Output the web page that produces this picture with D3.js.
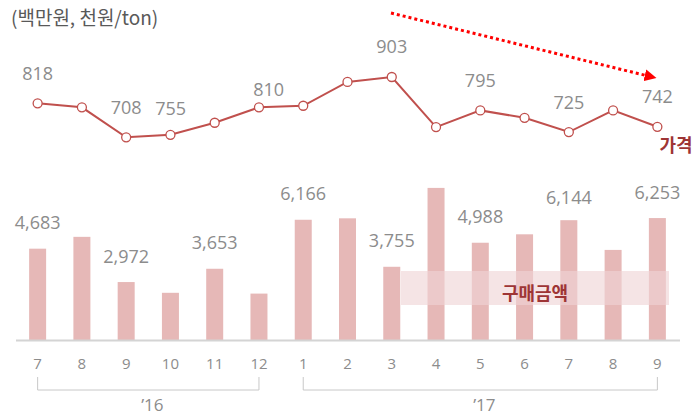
<!DOCTYPE html>
<html>
<head>
<meta charset="utf-8">
<script src="https://cdn.jsdelivr.net/npm/d3@7"></script>
<style>
  body { margin: 0; background: #fff; }
  svg { display: block; }
  .tick text { font-family: "Open Sans", sans-serif; font-size: 15px; fill: #8c8c8c; }
</style>
</head>
<body>
<svg id="chart"></svg>
<script>
// months on the x axis (Jul '16 .. Sep '17)
const months = ['7', '8', '9', '10', '11', '12', '1', '2', '3', '4', '5', '6', '7', '8', '9'];
// purchase amount (백만원)
const purchase = [4683, 5290, 2972, 2420, 3653, 2380, 6166, 6240, 3755, 7800, 4988, 5420, 6144, 4620, 6253];
// price (천원/ton)
const price = [818, 805, 708, 716, 755, 805, 810, 887, 903, 741, 795, 771, 725, 795, 742];
// which months carry a value label
const labeled = [0, 2, 4, 6, 8, 10, 12, 14];
const years = [
    { name: '’16', from: 0, to: 5 },
    { name: '’17', from: 6, to: 14 }
];

const W = 694, H = 418;
const baseY = 340;
const grey = '#8c8c8c', lineColor = '#c0504d', barColor = '#e6b8b7', darkRed = '#9e3535';

const svg = d3.select('#chart').attr('width', W).attr('height', H);

const x = d3.scaleBand().domain(d3.range(months.length)).range([15.5, 679.5]);
const cx = i => x(i) + x.bandwidth() / 2;
const yBar = d3.scaleLinear().domain([0, 10000]).range([baseY, 145]);
const yLine = d3.scaleLinear().domain([600, 1000]).range([170.7, 47]);

// unit title
svg.append('text')
    .attr('x', 11).attr('y', 25)
    .style('font-family', '"Noto Sans CJK KR", sans-serif')
    .style('font-size', '19px')
    .attr('fill', '#595959')
    .text('(백만원, 천원/ton)');

// bars
svg.append('g').selectAll('rect')
    .data(purchase)
    .enter().append('rect')
    .attr('x', (d, i) => cx(i) - 8.5)
    .attr('y', d => yBar(d))
    .attr('width', 17)
    .attr('height', d => baseY - yBar(d))
    .attr('fill', barColor);

// bar value labels
const barNudge = { 12: 3 };
svg.append('g').selectAll('text')
    .data(labeled)
    .enter().append('text')
    .attr('x', i => cx(i))
    .attr('y', i => yBar(purchase[i]) - 19.5 + (barNudge[i] || 0))
    .attr('text-anchor', 'middle')
    .style('font-family', '"Open Sans", sans-serif')
    .style('font-size', '18px')
    .attr('fill', grey)
    .text(i => d3.format(',')(purchase[i]));

// legend band for the bars
svg.append('rect')
    .attr('x', 401).attr('y', 271)
    .attr('width', 268).attr('height', 34)
    .attr('fill', '#efd3d5')
    .attr('fill-opacity', 0.62);
svg.append('text')
    .attr('x', 535).attr('y', 299.5)
    .attr('text-anchor', 'middle')
    .style('font-family', '"Noto Sans CJK KR", sans-serif')
    .style('font-size', '18px')
    .style('font-weight', 'bold')
    .attr('fill', darkRed)
    .text('구매금액');

// x axis
const xAxis = d3.axisBottom(x)
    .tickSize(0)
    .tickPadding(18)
    .tickFormat(i => months[i]);
const axisG = svg.append('g')
    .attr('transform', 'translate(0,' + baseY + ')')
    .call(xAxis);
axisG.select('.domain').attr('stroke', '#d4d4d4').attr('stroke-width', 2);

// year brackets
years.forEach(function(yr) {
    const x0 = cx(yr.from), x1 = cx(yr.to);
    svg.append('path')
        .attr('d', 'M' + x0 + ',377V390H' + x1 + 'V377')
        .attr('fill', 'none')
        .attr('stroke', '#c8c8c8')
        .attr('stroke-width', 1);
    svg.append('text')
        .attr('x', (x0 + x1) / 2 + 4).attr('y', 411)
        .attr('text-anchor', 'middle')
        .style('font-family', '"Open Sans", sans-serif')
        .style('font-size', '17px')
        .attr('fill', grey)
        .text(yr.name);
});

// price line
const line = d3.line()
    .x((d, i) => cx(i))
    .y(d => yLine(d));
svg.append('path')
    .datum(price)
    .attr('d', line)
    .attr('fill', 'none')
    .attr('stroke', lineColor)
    .attr('stroke-width', 2);

svg.append('g').selectAll('circle')
    .data(price)
    .enter().append('circle')
    .attr('cx', (d, i) => cx(i))
    .attr('cy', d => yLine(d))
    .attr('r', 4.5)
    .attr('fill', '#fff')
    .attr('stroke', lineColor)
    .attr('stroke-width', 1.3);

// price labels (two were moved by hand in the original)
const lineNudge = { 4: [-44, 16], 6: [-34.5, 14] };
svg.append('g').selectAll('text')
    .data(labeled)
    .enter().append('text')
    .attr('x', i => cx(i) + (lineNudge[i] ? lineNudge[i][0] : 0))
    .attr('y', i => yLine(price[i]) - 23.5 + (lineNudge[i] ? lineNudge[i][1] : 0))
    .attr('text-anchor', 'middle')
    .style('font-family', '"Open Sans", sans-serif')
    .style('font-size', '18px')
    .attr('fill', grey)
    .text(i => price[i]);

svg.append('text')
    .attr('x', 676).attr('y', 151.5)
    .attr('text-anchor', 'middle')
    .style('font-family', '"Noto Sans CJK KR", sans-serif')
    .style('font-size', '18px')
    .style('font-weight', 'bold')
    .attr('fill', darkRed)
    .text('가격');

// downward trend arrow
svg.append('defs').append('marker')
    .attr('id', 'head')
    .attr('viewBox', '0 0 10 10')
    .attr('refX', 1).attr('refY', 5)
    .attr('markerWidth', 4).attr('markerHeight', 4)
    .attr('markerUnits', 'strokeWidth')
    .attr('orient', 'auto')
    .append('path')
    .attr('d', 'M0,0L10,5L0,10Z')
    .attr('fill', '#ff0000');
svg.append('line')
    .attr('x1', 391).attr('y1', 13)
    .attr('x2', 646).attr('y2', 75.5)
    .attr('stroke', '#ff0000')
    .attr('stroke-width', 3)
    .attr('stroke-dasharray', '3,3')
    .attr('marker-end', 'url(#head)');
</script>
</body>
</html>
